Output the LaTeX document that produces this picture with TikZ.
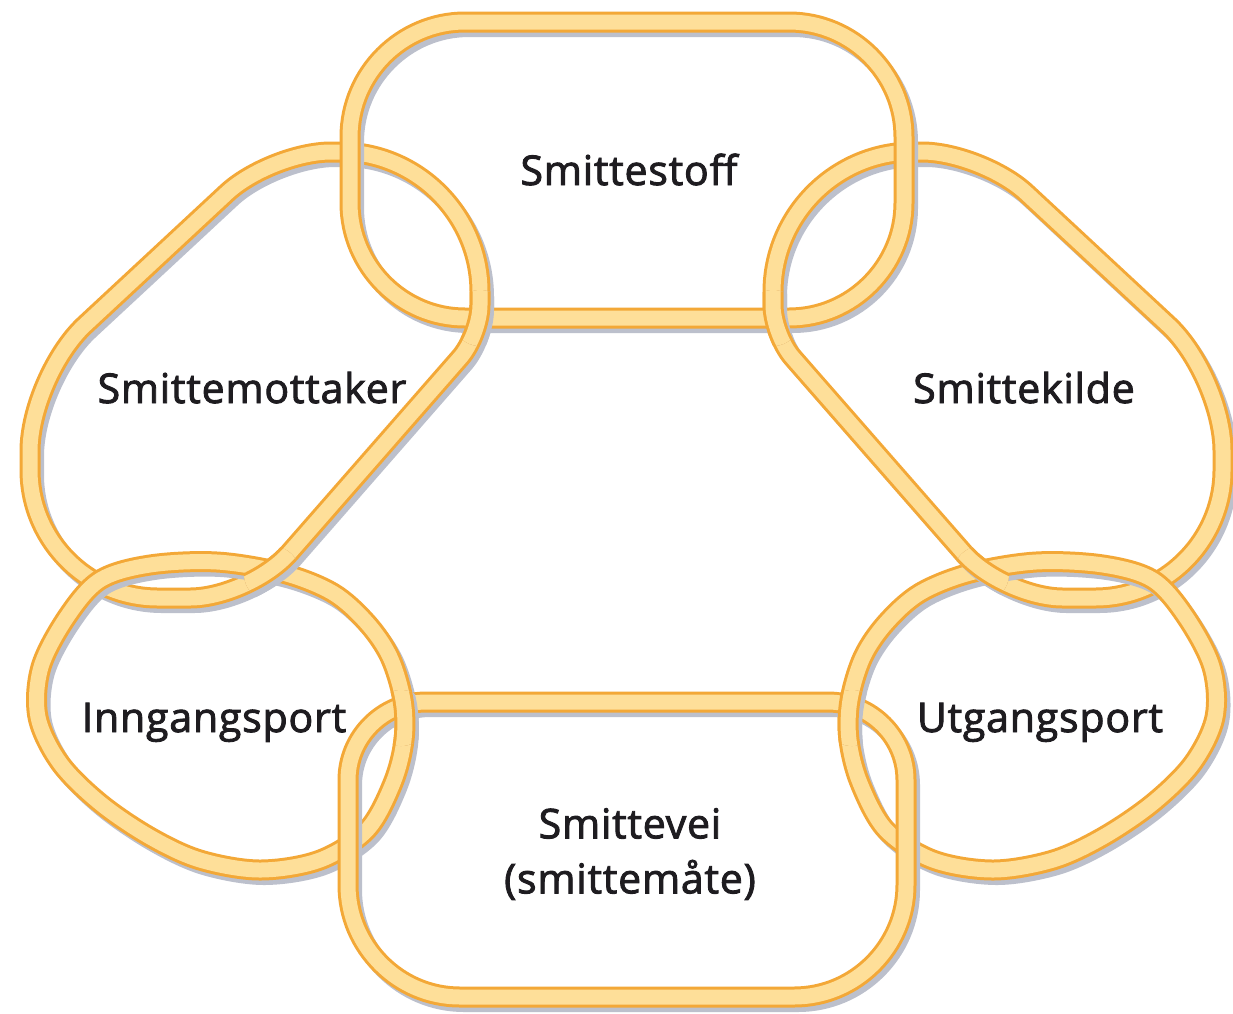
\documentclass[tikz,border=0pt]{standalone}
\usepackage{fontspec}
\newfontfamily\lbl[FakeBold=2.2,LetterSpace=2]{Open Sans}
\usetikzlibrary{calc}
\definecolor{ringedge}{RGB}{243,168,55}
\definecolor{ringfill}{RGB}{254,223,153}
\definecolor{ringshade}{RGB}{188,192,204}
\definecolor{lblcol}{RGB}{30,28,32}
\newcommand\rcorner[4]{-- ($(#2)!#4!(#1)$) .. controls ($(#2)!0.45*#4!(#1)$) and ($(#2)!0.45*#4!(#3)$) .. ($(#2)!#4!(#3)$)}
\newcommand\ringdraw[1]{%
  \begin{scope}[transform canvas={shift={(4pt,-5pt)}}]\draw[shadowline] #1;\end{scope}
  \draw[edgeline] #1;
  \draw[fillline] #1;}
\newcommand\ringpatch[2]{\begin{scope}\clip #1 circle (28pt);\ringdraw{#2}\end{scope}}
\tikzset{
  shadowline/.style={draw=ringshade, line width=20pt, line join=round},
  edgeline/.style={draw=ringedge, line width=21pt, line join=round},
  fillline/.style={draw=ringfill, line width=15pt, line join=round},
  lbltext/.style={font={\lbl\fontsize{41}{55}\selectfont}, text=lblcol, inner sep=0pt, align=center}
}
\begin{document}
\begin{tikzpicture}[x=1pt,y=-1pt]
\fill[white] (0,0) rectangle (1233,1013);
\useasboundingbox (0,0) rectangle (1233,1013);
% corner coordinates
\coordinate (m1) at (271,152); \coordinate (m2) at (480,152); \coordinate (m3) at (480,335);
\coordinate (m4) at (250,598); \coordinate (m5) at (30,598);  \coordinate (m6) at (30,376);
\coordinate (k1) at (982,152); \coordinate (k2) at (773,152); \coordinate (k3) at (773,335);
\coordinate (k4) at (1003,598); \coordinate (k5) at (1223,598); \coordinate (k6) at (1223,376);
\coordinate (s1) at (350,22); \coordinate (s2) at (904,22); \coordinate (s3) at (904,318); \coordinate (s4) at (350,318);
\coordinate (v1) at (348,702); \coordinate (v2) at (906,702); \coordinate (v3) at (906,997); \coordinate (v4) at (348,997);
\def\ringM{($(m1)!60pt!(m2)$) \rcorner{m1}{m2}{m3}{140pt} \rcorner{m2}{m3}{m4}{30pt} \rcorner{m3}{m4}{m5}{60pt} \rcorner{m4}{m5}{m6}{128pt} \rcorner{m5}{m6}{m1}{75pt} \rcorner{m6}{m1}{m2}{60pt} -- cycle}
\def\ringK{($(k1)!60pt!(k2)$) \rcorner{k1}{k2}{k3}{140pt} \rcorner{k2}{k3}{k4}{30pt} \rcorner{k3}{k4}{k5}{60pt} \rcorner{k4}{k5}{k6}{128pt} \rcorner{k5}{k6}{k1}{75pt} \rcorner{k6}{k1}{k2}{60pt} -- cycle}
\def\ringS{($(s1)!115pt!(s2)$) \rcorner{s1}{s2}{s3}{115pt} \rcorner{s2}{s3}{s4}{115pt} \rcorner{s3}{s4}{s1}{115pt} \rcorner{s4}{s1}{s2}{115pt} -- cycle}
\def\ringV{($(v1)!78pt!(v2)$) \rcorner{v1}{v2}{v3}{78pt} \rcorner{v2}{v3}{v4}{112pt} \rcorner{v3}{v4}{v1}{112pt} \rcorner{v4}{v1}{v2}{78pt} -- cycle}
\def\ringI{plot[smooth cycle, tension=0.55] coordinates {(100,580) (150,565) (217,562) (283,573) (333,593) (367,623) (390,657) (403,700) (404,740) (393,783) (367,830) (320,860) (260,870) (200,860) (150,837) (100,803) (60,763) (38,717) (41,667) (67,617)}}
\def\ringU{plot[smooth cycle, tension=0.55] coordinates {(1153,580) (1103,565) (1036,562) (970,573) (920,593) (886,623) (863,657) (850,700) (849,740) (860,783) (886,830) (933,860) (993,870) (1053,860) (1103,837) (1153,803) (1193,763) (1215,717) (1212,667) (1186,617)}}
% rings
\ringdraw{\ringM}
\ringdraw{\ringK}
\ringdraw{\ringS}
\ringdraw{\ringI}
\ringdraw{\ringU}
\ringdraw{\ringV}
% interlocking patches
\ringpatch{(480,318)}{\ringM}
\ringpatch{(773,318)}{\ringK}
\ringpatch{(272,574)}{\ringM}
\ringpatch{(981,574)}{\ringK}
\ringpatch{(401,718)}{\ringI}
\ringpatch{(852,718)}{\ringU}
% labels
\node[lbltext, anchor=base] (tS) at (629,185) {Smittestoff};
\node[lbltext, anchor=base] (tM) at (252,403) {Smittemottaker};
\node[lbltext, anchor=base] (tK) at (1024,403) {Smittekilde};
\node[lbltext, anchor=base] (tI) at (214,732) {Inngangsport};
\node[lbltext, anchor=base] (tU) at (1040,732) {Utgangsport};
\node[lbltext] (tV) at (630,854) {Smittevei\\(smittemåte)};
\end{tikzpicture}
\end{document}
